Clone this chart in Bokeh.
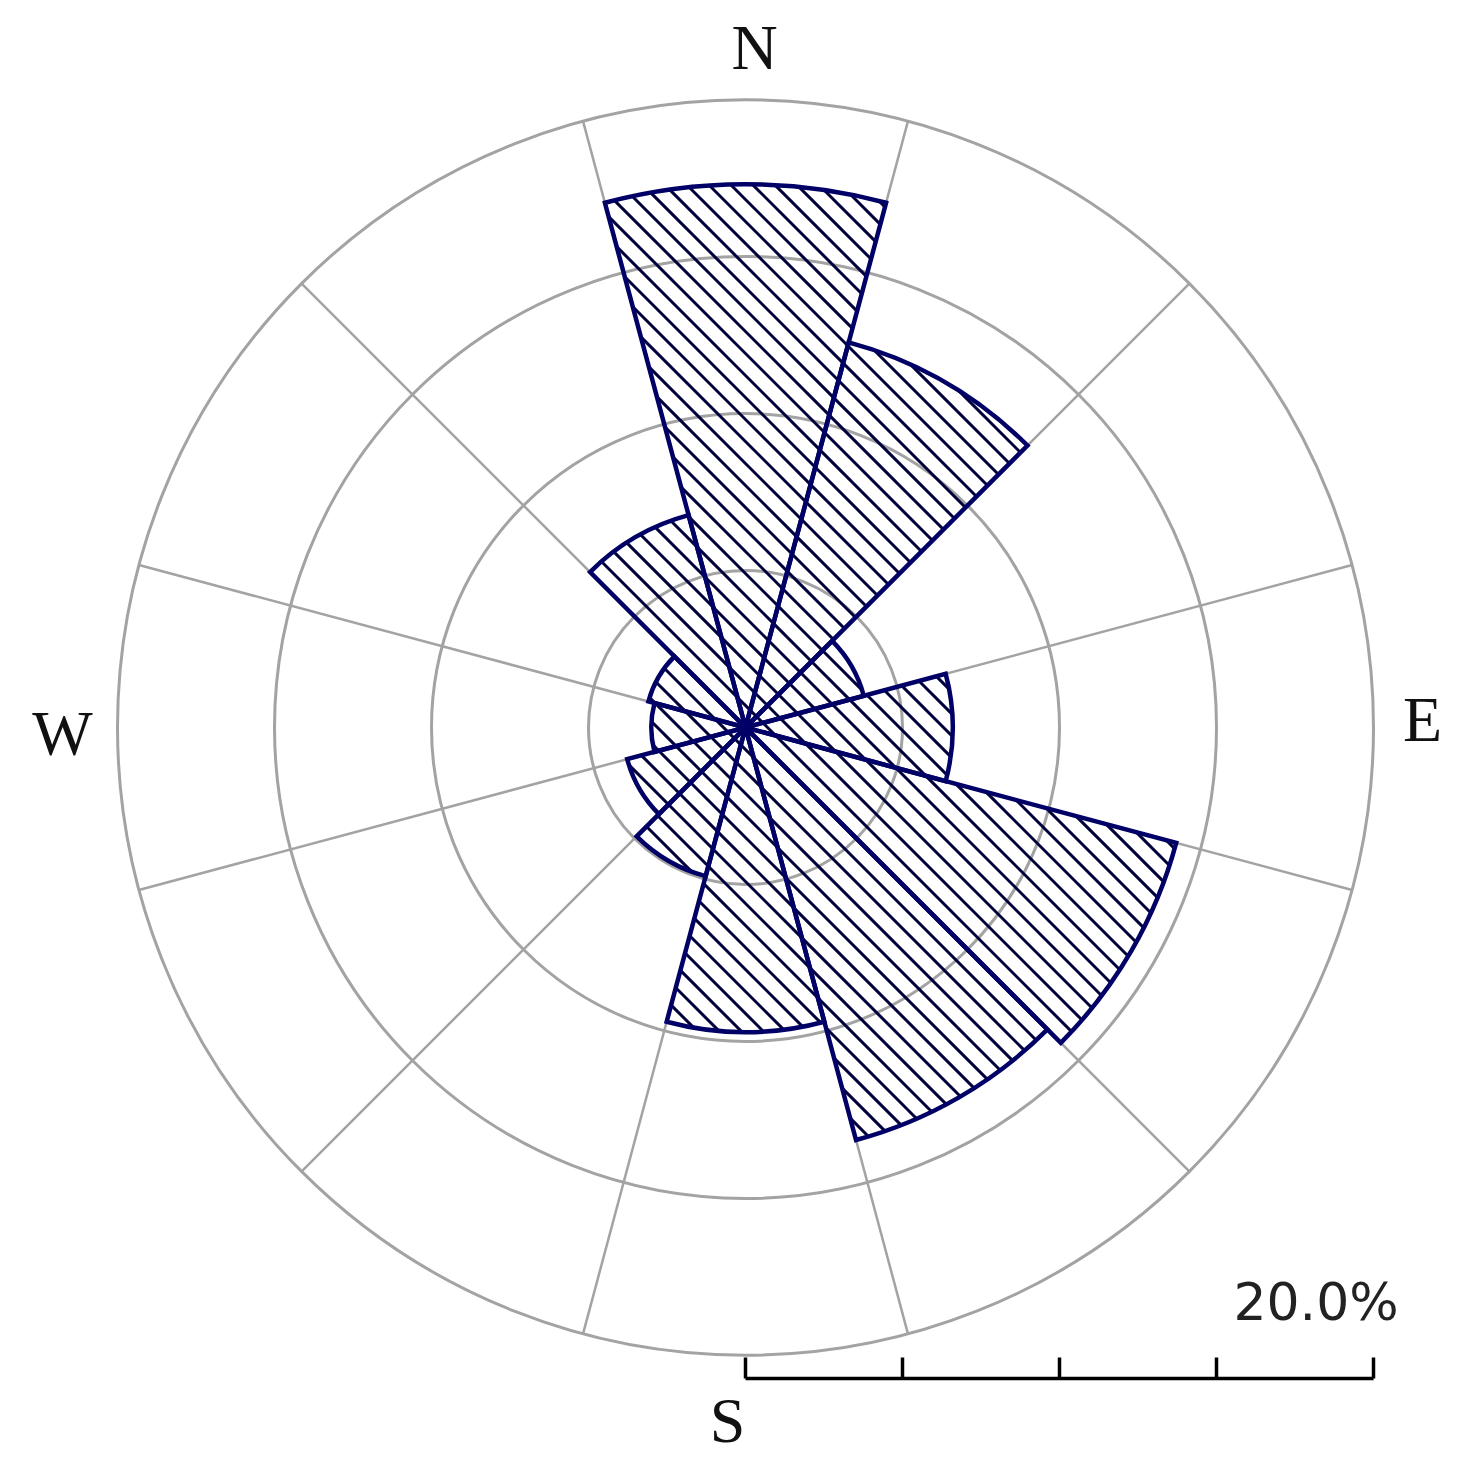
import numpy as np
from bokeh.plotting import figure
from bokeh.models import Range1d, ColumnDataSource
from bokeh.core.properties import value
from bokeh.embed import file_html
from bokeh.resources import INLINE

# ---- data ----
directions = [0, 30, 60, 90, 120, 150, 180, 210, 240, 270, 300, 330]   # compass degrees (sector centres)
frequencies = [17.3, 12.7, 3.9, 6.6, 14.2, 13.6, 9.7, 4.9, 3.9, 3.0, 3.2, 7.0]  # percent
ring_values = [5, 10, 15, 20]
scale_ticks = [0, 5, 10, 15, 20]
scale_label = "20.0%"
compass_labels = ["N", "E", "S", "W"]

# ---- layout ----
W, H = 1454, 1457
PX = 31.4            # pixels per percent
CX, CY = 745, 727    # centre in figure pixels
half = 15
HATCH_PX = 22        # horizontal spacing of hatch lines in pixels

p = figure(width=W, height=H, output_backend="svg", toolbar_location=None,
           x_range=Range1d(-CX / PX, (W - CX) / PX),
           y_range=Range1d(-(H - CY) / PX, CY / PX),
           min_border=0, outline_line_color=None)
p.axis.visible = False
p.xgrid.visible = False
p.ygrid.visible = False
p.background_fill_color = "white"

grid_col = "#a3a3a3"
# rings
p.circle(x=[0] * len(ring_values), y=[0] * len(ring_values), radius=ring_values,
         fill_color=None, line_color=grid_col, line_width=3)
# radial lines at sector borders
borders = np.deg2rad(np.array(directions) + half)
rmax = max(ring_values)
p.segment(x0=0, y0=0, x1=rmax * np.sin(borders), y1=rmax * np.cos(borders),
          line_color=grid_col, line_width=2.5)

# sector geometry (math angles)
math_c = 90 - np.array(directions)
a0s = np.deg2rad(math_c - half)
a1s = np.deg2rad(math_c + half)

# 45-degree hatch lines (x + y = c) clipped to each sector
step = HATCH_PX / PX
d = np.array([1.0, -1.0]) / np.sqrt(2)
hx0, hy0, hx1, hy1 = [], [], [], []
cmax = max(frequencies) * np.sqrt(2)
cs = np.arange(-np.ceil(cmax / step), np.ceil(cmax / step) + 1) * step
for R, a0, a1 in zip(frequencies, a0s, a1s):
    u0 = np.array([np.cos(a0), np.sin(a0)])
    u1 = np.array([np.cos(a1), np.sin(a1)])
    for c in cs:
        disc = R * R - c * c / 2
        if disc <= 0:
            continue
        p0 = np.array([c / 2, c / 2])
        lo, hi = -np.sqrt(disc), np.sqrt(disc)
        # cross(u0, P) >= 0  and cross(P, u1) >= 0
        for (k0, k1) in [
            (u0[0] * p0[1] - u0[1] * p0[0], u0[0] * d[1] - u0[1] * d[0]),
            (p0[0] * u1[1] - p0[1] * u1[0], d[0] * u1[1] - d[1] * u1[0]),
        ]:
            if abs(k1) < 1e-9:
                if k0 < -1e-9:
                    lo, hi = 1, 0
                continue
            t = -k0 / k1
            if k1 > 0:
                lo = max(lo, t)
            else:
                hi = min(hi, t)
        if hi > lo:
            a = p0 + lo * d
            b = p0 + hi * d
            hx0.append(a[0]); hy0.append(a[1]); hx1.append(b[0]); hy1.append(b[1])

p.segment(x0=hx0, y0=hy0, x1=hx1, y1=hy1, line_color="#00003a", line_width=3)

# sector outlines
src = ColumnDataSource(dict(r=frequencies, start=a0s, end=a1s))
p.wedge(x=0, y=0, radius="r", start_angle="start", end_angle="end", source=src,
        fill_color=None, line_color="#000066", line_width=4.5, line_join="miter")

# compass labels
lab_x = [0.29, 21.56, -0.57, -21.75]
lab_y = [21.66, 0.25, -22.07, -0.19]
p.text(x=lab_x, y=lab_y, text=compass_labels, text_align="center", text_baseline="middle",
       text_font=value("Liberation Serif"), text_font_size="64px", text_color="#111111")

# scale bar
bar_y = -(1378 - 727) / PX
tick_top = -(1357 - 727) / PX
p.segment(x0=[scale_ticks[0]], y0=[bar_y], x1=[scale_ticks[-1]], y1=[bar_y],
          line_color="black", line_width=3.5)
p.segment(x0=scale_ticks, y0=[bar_y] * len(scale_ticks), x1=scale_ticks,
          y1=[tick_top] * len(scale_ticks), line_color="black", line_width=3.5)
p.text(x=[20.8], y=[-(1331 - 727) / PX], text=[scale_label], text_align="right",
       text_baseline="bottom", text_font=value("DejaVu Sans"), text_font_size="52px",
       text_color="#222222")

open("out.html", "w").write(file_html(p, INLINE))
